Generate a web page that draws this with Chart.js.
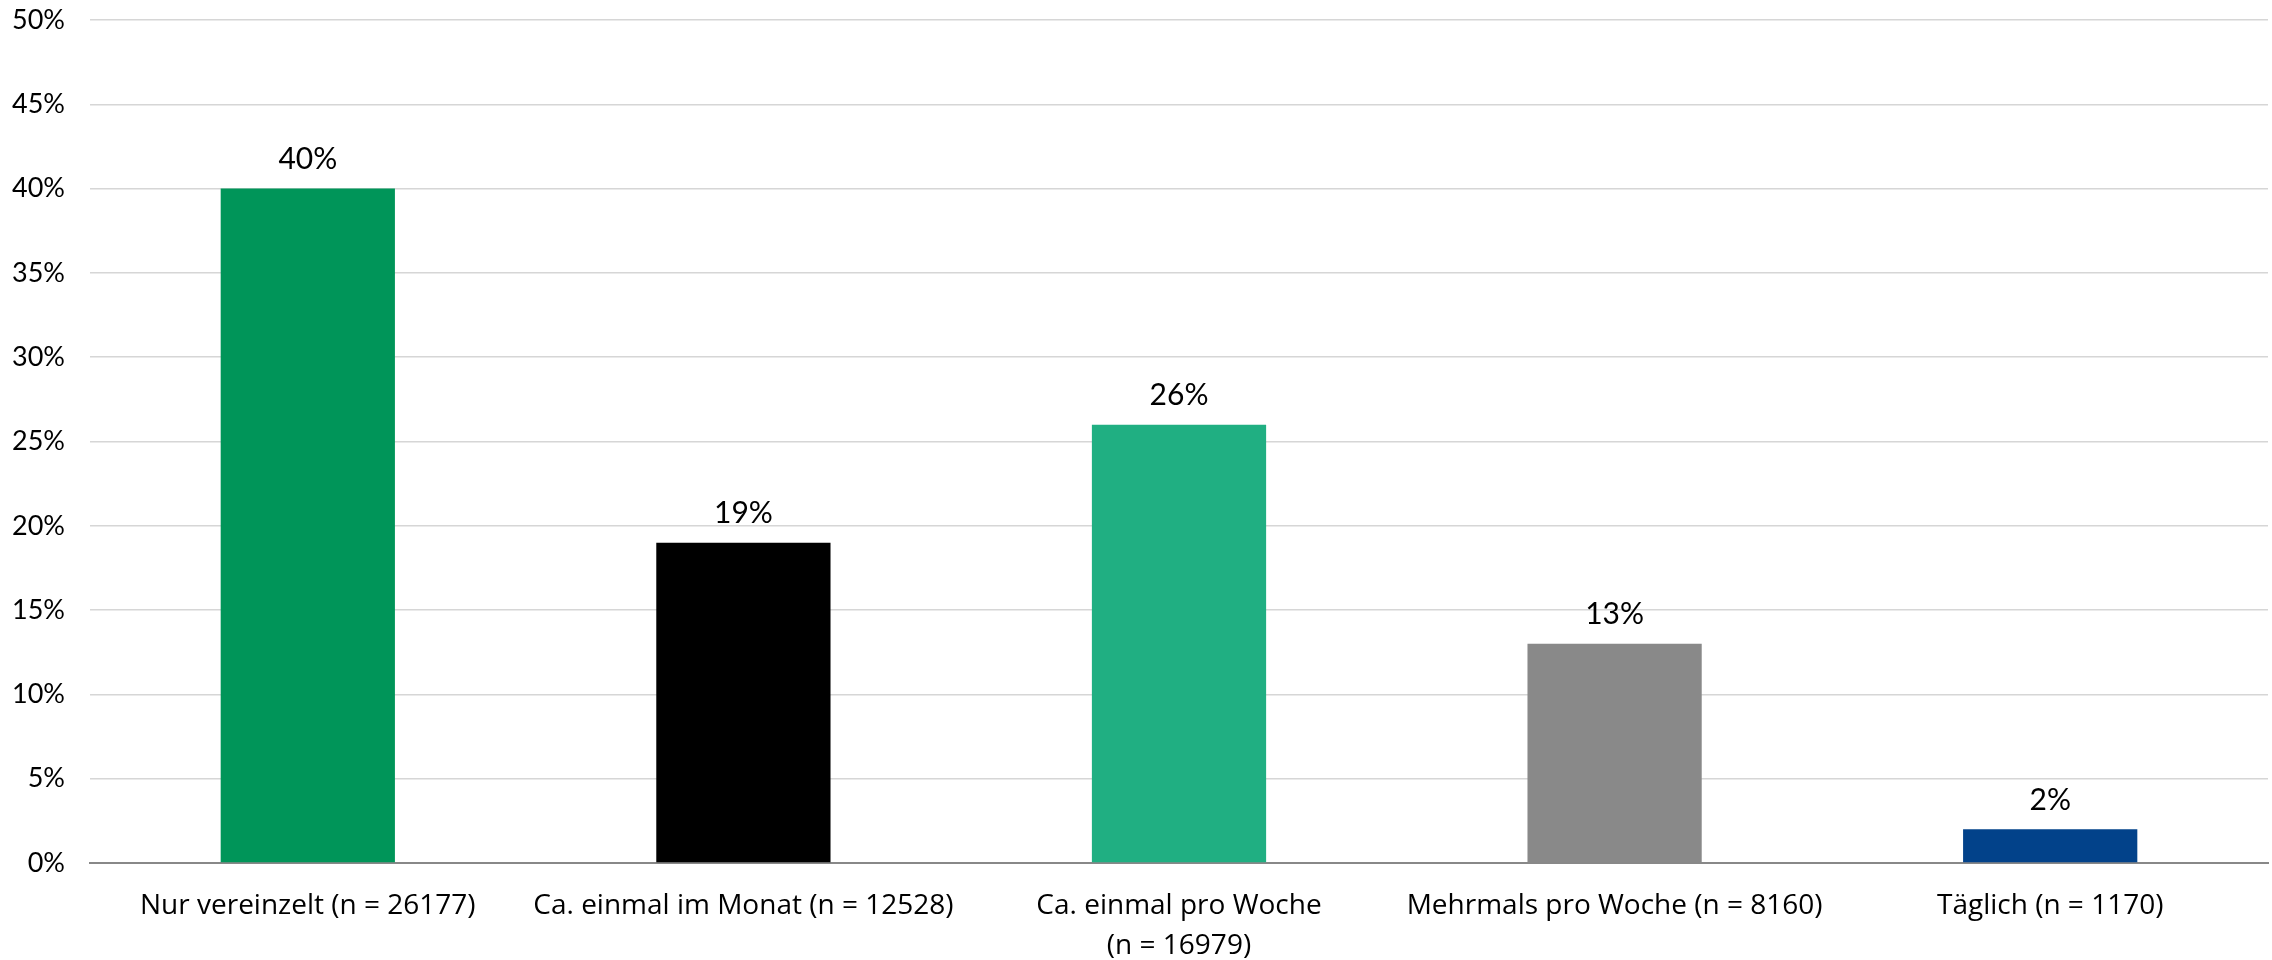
<!DOCTYPE html>
<html>
<head>
<meta charset="utf-8">
<script src="https://cdn.jsdelivr.net/npm/chart.js@4"></script>
<style>
  html, body { margin: 0; padding: 0; background: #fff; }
  #wrap { width: 2272px; height: 960px; position: relative; }
</style>
</head>
<body>
<div id="wrap"><canvas id="chart"></canvas></div>
<script>
// categories (multi-line label as array)
const categories = [
    'Nur vereinzelt (n = 26177)',
    'Ca. einmal im Monat (n = 12528)',
    ['Ca. einmal pro Woche', '(n = 16979)'],
    'Mehrmals pro Woche (n = 8160)',
    'Täglich (n = 1170)'
];
const shares = [40, 19, 26, 13, 2];
const barColors = ['#009559', '#000000', '#20AF82', '#898989', '#02428A'];
const yTicks = [0, 5, 10, 15, 20, 25, 30, 35, 40, 45, 50];

// value labels on top of bars
const valueLabels = {
    id: 'valueLabels',
    afterDatasetsDraw(chart) {
        const ctx = chart.ctx;
        const meta = chart.getDatasetMeta(0);
        ctx.save();
        ctx.font = '30px Lato';
        ctx.fillStyle = '#000';
        ctx.textAlign = 'center';
        ctx.textBaseline = 'middle';
        meta.data.forEach((bar, i) => {
            ctx.fillText(shares[i] + '%', bar.x, bar.y - 29);
        });
        ctx.restore();
    }
};

new Chart(document.getElementById('chart'), {
    type: 'bar',
    data: {
        labels: categories,
        datasets: [{
            data: shares,
            backgroundColor: barColors,
            categoryPercentage: 1,
            barPercentage: 0.4
        }]
    },
    options: {
        responsive: true,
        maintainAspectRatio: false,
        animation: false,
        layout: { padding: { top: 20, right: 4, left: 0, bottom: 0 } },
        plugins: { legend: { display: false }, tooltip: { enabled: false } },
        scales: {
            x: {
                grid: { display: false, drawTicks: false },
                border: { display: true, color: '#888888', width: 2 },
                ticks: {
                    color: '#000',
                    font: { family: 'Open Sans', size: 28, lineHeight: 1.42 },
                    padding: 23,
                    maxRotation: 0,
                    autoSkip: false
                },
                afterFit(scale) { scale.height = 97; }
            },
            y: {
                min: 0,
                max: 50,
                afterBuildTicks(scale) { scale.ticks = yTicks.map(v => ({ value: v })); },
                grid: {
                    drawTicks: false,
                    tickLength: 0,
                    lineWidth: 1.5,
                    color: ctx => ctx.tick && ctx.tick.value === 0 ? 'rgba(0,0,0,0)' : '#d6d6d6'
                },
                border: { display: false },
                ticks: {
                    color: '#000',
                    font: { family: 'Lato', size: 27 },
                    padding: 25,
                    callback: v => v + '%'
                },
                afterFit(scale) {
                    scale.width = 90;
                    scale.paddingTop = 0;
                    scale.paddingBottom = 0;
                }
            }
        }
    },
    plugins: [valueLabels]
});
</script>
</body>
</html>
